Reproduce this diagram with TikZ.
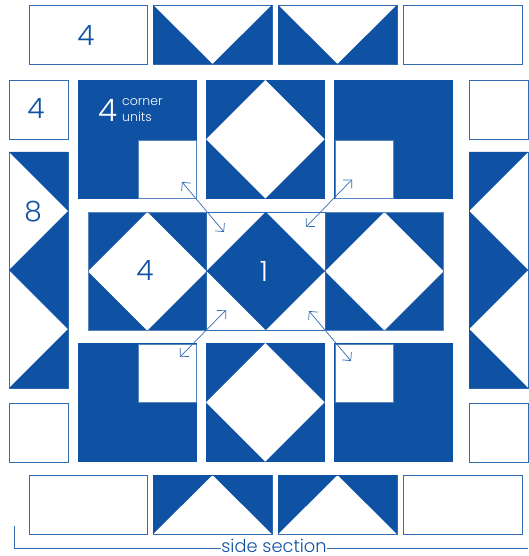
\documentclass[tikz,border=0pt]{standalone}
\usepackage{fontspec}
\setmainfont{Poppins Light}
\usetikzlibrary{arrows.meta}
\definecolor{qblue}{HTML}{0F52A3}
\tikzset{
  x=1pt,y=-1pt,
  outlined/.style={draw=qblue!85!white,line width=0.8pt,fill=white},
  solid block/.style={fill=qblue},
  tri/.style={fill=qblue},
  inner white/.style={fill=white,draw=qblue!70!white,line width=0.7pt},
  lbl/.style={text=qblue,inner sep=0pt,font=\fontsize{#1}{#1}\selectfont},
  wlbl/.style={text=white,inner sep=0pt,align=left,font=\fontsize{#1}{#1}\selectfont},
  dbl/.style={qblue!85!white,line width=0.7pt,{Straight Barb[length=6pt,width=12pt]}-{Straight Barb[length=6pt,width=12pt]}},
  rule/.style={qblue!85!white,line width=0.7pt}
}
\begin{document}
\begin{tikzpicture}
\useasboundingbox (0,0) rectangle (529,556);
% plain rectangles
\foreach \a/\b/\c/\d in {29/5/147/64,403/5/522/64,29/475/147/534,403/475/522/534,
  9/80/68/139,469/80/528/139,9/403/68/462,469/403/528/462}
  \draw[outlined] (\a,\b) rectangle (\c,\d);
% horizontal geese, top (white points down) and bottom (white points up)
\foreach \a/\m/\c in {153/212.5/272,278/337.5/397}{
  \draw[outlined] (\a,5) rectangle (\c,64);
  \fill[tri] (\a,5) -- (\m,64) -- (\c,5) -- (\c,64) -- (\a,64) -- cycle;
  \draw[outlined] (\a,475) rectangle (\c,534);
  \fill[tri] (\a,534) -- (\m,475) -- (\c,534) -- (\c,475) -- (\a,475) -- cycle;
}
% vertical geese, left and right
\foreach \b/\m/\d in {152/211/270,270/329/388}{
  \draw[outlined] (9,\b) rectangle (68,\d);
  \fill[tri] (9,\b) -- (68,\m) -- (9,\d) -- (68,\d) -- (68,\b) -- cycle;
  \draw[outlined] (469,\b) rectangle (528,\d);
  \fill[tri] (528,\b) -- (469,\m) -- (528,\d) -- (469,\d) -- (469,\b) -- cycle;
}
% corner units
\foreach \a/\b/\p/\q in {78/80/138/140,334/80/335/140,78/343/138/344,334/343/335/344}{
  \fill[solid block] (\a,\b) rectangle ++(119,119);
  \draw[inner white] (\p,\q) rectangle ++(58,58);
}
% square-in-square, white diamond
\foreach \a/\b in {206/80,206/343,88/212,325/212}{
  \fill[solid block] (\a,\b) rectangle ++(118.5,118.5);
  \fill[white] (\a+59.25,\b) -- (\a+118.5,\b+59.25) -- (\a+59.25,\b+118.5) -- (\a,\b+59.25) -- cycle;
}
\draw[qblue!70!white,line width=0.7pt] (88,212) rectangle (443.5,330);
% centre unit, blue diamond
\draw[outlined] (206.5,212) rectangle (325,330);
\fill[solid block] (265.75,212) -- (325,271) -- (265.75,330) -- (206.5,271) -- cycle;
% texts
\node[lbl=28] (n1) at (86,36) {4};
\node[lbl=28] (n2) at (36,109) {4};
\node[lbl=28] (n3) at (33,212) {8};
\node[lbl=28] (n4) at (145,271) {4};
\node[wlbl=31] (n5) at (107.5,110.5) {4};
\node[wlbl=12.5,anchor=west] (n6) at (122,102) {corner};
\node[wlbl=12.5,anchor=west] (n7) at (122,116.5) {units};
\node[wlbl=28] (n8) at (264,271) {1};
\node[lbl=17.8] (side) at (274,546) {side section};
% double arrows
\coordinate (a1) at (182,182); \coordinate (a2) at (224,232);
\coordinate (b1) at (352,179.5); \coordinate (b2) at (306,227);
\coordinate (c1) at (226,310); \coordinate (c2) at (180,357);
\coordinate (d1) at (309,311); \coordinate (d2) at (351,361);
\draw[dbl] (a1) -- (a2);
\draw[dbl] (b1) -- (b2);
\draw[dbl] (c1) -- (c2);
\draw[dbl] (d1) -- (d2);
% bracket
\coordinate (r0) at (14,526); \coordinate (r1) at (14,548); \coordinate (r2) at (528,548);
\draw[rule] (r0) -- (r1) -- (side.west |- r1);
\draw[rule] (side.east |- r2) -- (r2);
\end{tikzpicture}
\end{document}
